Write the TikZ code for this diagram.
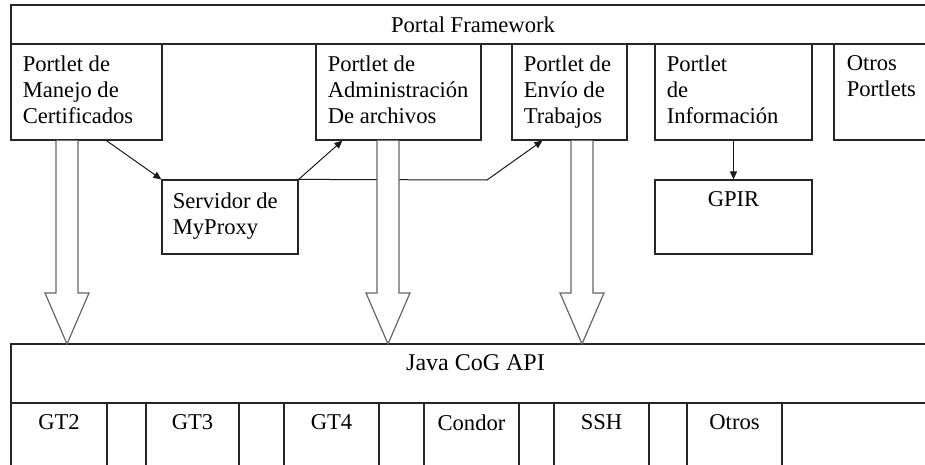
\documentclass[tikz,border=0pt]{standalone}
\usepackage{fontspec}
\setmainfont{Liberation Serif}
\usetikzlibrary{arrows.meta,fit}
\begin{document}
\begin{tikzpicture}[x=0.5pt,y=-0.5pt,
  box/.style={draw=black!85, line width=0.6pt, inner sep=0pt},
  txt/.style={inner sep=0pt, align=left, anchor=north west, font=\fontsize{11.3}{12.9}\selectfont, text=black},
  ctxt/.style={txt, anchor=north, align=center},
  conn/.style={draw=black!90, line width=0.5pt, -{Triangle[length=4pt,width=3.5pt]}},
  bigarrow/.style={draw=black!60, line width=0.6pt, fill=white}
]
\useasboundingbox (0,0) rectangle (925,465);
\clip (0,0) rectangle (925,465);

% header frame
\node[box, fit={(11,5) (935,44)}] (frame) {};
\node[ctxt] at ([yshift=-6pt]frame.north) {Portal Framework};

% portlets
\node[box, fit={(11,44) (162,140)}] (p1) {};
\node[box, fit={(316,44) (481,140)}] (p2) {};
\node[box, fit={(512,44) (627,140)}] (p3) {};
\node[box, fit={(655,44) (812,140)}] (p4) {};
\node[box, fit={(834,44) (960,140)}] (p5) {};
\node[txt] at ([shift={(6pt,-6pt)}]p1.north west) {Portlet de\\Manejo de\\Certificados};
\node[txt] at ([shift={(6pt,-6pt)}]p2.north west) {Portlet de\\Administración\\De archivos};
\node[txt] at ([shift={(6pt,-6pt)}]p3.north west) {Portlet de\\Envío de\\Trabajos};
\node[txt] at ([shift={(6pt,-6pt)}]p4.north west) {Portlet\\de\\Información};
\node[txt] at ([shift={(6.5pt,-6pt)}]p5.north west) {Otros\\Portlets};

% middle boxes
\node[box, fit={(162,180) (298,254)}] (mp) {};
\node[txt] at ([shift={(5.5pt,-6.5pt)}]mp.north west) {Servidor de\\MyProxy};
\node[box, fit={(655,180) (812,254)}] (gp) {};
\node[ctxt] at ([yshift=-6pt]gp.north) {GPIR};

% Java CoG API
\node[box, fit={(11,344) (940,403)}] (java) {};
\node[ctxt, font=\fontsize{12}{13.5}\selectfont] at ([yshift=-5.5pt]java.north) {Java CoG API};
\node[box, fit={(11,403) (107,480)}] (c1) {};
\node[box, fit={(107,403) (146,480)}] (g1) {};
\node[box, fit={(146,403) (239,480)}] (c2) {};
\node[box, fit={(239,403) (284,480)}] (g2) {};
\node[box, fit={(284,403) (379,480)}] (c3) {};
\node[box, fit={(379,403) (424,480)}] (g3) {};
\node[box, fit={(424,403) (519,480)}] (c4) {};
\node[box, fit={(519,403) (554,480)}] (g4) {};
\node[box, fit={(554,403) (649,480)}] (c5) {};
\node[box, fit={(649,403) (687,480)}] (g5) {};
\node[box, fit={(687,403) (782,480)}] (c6) {};
\node[box, fit={(782,403) (960,480)}] (c7) {};
\node[ctxt] at ([yshift=-6pt]c1.north) {GT2};
\node[ctxt] at ([yshift=-6pt]c2.north) {GT3};
\node[ctxt] at ([yshift=-6pt]c3.north) {GT4};
\node[ctxt] at ([yshift=-6pt]c4.north) {Condor};
\node[ctxt] at ([yshift=-6pt]c5.north) {SSH};
\node[ctxt] at ([yshift=-6pt]c6.north) {Otros};

% thin connectors
\coordinate (bend) at (487,180);
\draw[conn] ([xshift=48pt]p1.south west) -- (mp.north west);
\draw[conn] (mp.north east) -- ([xshift=13.5pt]p2.south west);
\draw[conn] (mp.north east) -- (bend) -- ([xshift=15.5pt]p3.south west);
\draw[conn] (p4.south) -- (gp.north);

% big hollow arrows
\filldraw[bigarrow] (56,140.7) -- (56,293) -- (45,293) -- (67,344) -- (89,293) -- (78,293) -- (78,140.7);
\filldraw[bigarrow] (377,140.7) -- (377,293) -- (366,293) -- (388,344) -- (410,293) -- (399,293) -- (399,140.7);
\filldraw[bigarrow] (571,140.7) -- (571,293) -- (560,293) -- (582,344) -- (604,293) -- (593,293) -- (593,140.7);
\end{tikzpicture}
\end{document}
